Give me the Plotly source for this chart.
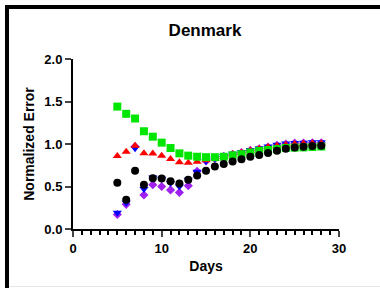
import plotly.graph_objects as go

days = list(range(5, 29))

green_sq = [1.44, 1.355, 1.30, 1.15, 1.086, 1.016, 0.953, 0.89, 0.863, 0.85, 0.845, 0.845,
            0.85, 0.867, 0.88, 0.90, 0.92, 0.93, 0.94, 0.953, 0.957, 0.96, 0.965, 0.97]
red_tri = [0.86, 0.91, 0.98, 0.89, 0.887, 0.863, 0.824, 0.785, 0.78, 0.79, 0.81, 0.83,
           0.85, 0.88, 0.90, 0.925, 0.945, 0.965, 0.98, 0.99, 1.0, 1.005, 1.01, 1.01]
blue_inv = [0.19, 0.31, 0.95, 0.47, 0.605, 0.59, 0.54, 0.50, 0.58, 0.675, 0.80, 0.83,
            0.855, 0.885, 0.905, 0.93, 0.95, 0.97, 0.99, 1.005, 1.012, 1.015, 1.02, 1.02]
purple_dia = [0.17, 0.29, 0.97, 0.40, 0.52, 0.50, 0.46, 0.43, 0.51, 0.68, 0.80, 0.83,
              0.855, 0.88, 0.90, 0.925, 0.945, 0.965, 0.985, 1.0, 1.01, 1.012, 1.015, 1.015]
black_circ = [0.543, 0.344, 0.684, 0.52, 0.598, 0.594, 0.5625, 0.535, 0.578, 0.629, 0.684, 0.734,
              0.766, 0.793, 0.82, 0.85, 0.871, 0.895, 0.922, 0.945, 0.96, 0.969, 0.977, 0.98]

x_ticks = [0, 10, 20, 30]
y_ticks = [0.0, 0.5, 1.0, 1.5, 2.0]
y_tick_labels = ["0.0", "0.5", "1.0", "1.5", "2.0"]

W, H = 380, 288
L, R, T, B = 73, 339, 59, 229

fig = go.Figure()
series = [
    (purple_dia, "#a020f0", "diamond", 7),
    (blue_inv, "#0000ff", "triangle-down", 8),
    (red_tri, "#ff0000", "triangle-up", 8),
    (green_sq, "#00e600", "square", 8),
    (black_circ, "#000000", "circle", 8),
]
for vals, col, sym, sz in series:
    fig.add_trace(go.Scatter(x=days, y=vals, mode="markers",
                             marker=dict(color=col, symbol=sym, size=sz, line=dict(width=0)),
                             showlegend=False, cliponaxis=False))

def px(p):
    return (p - L) / (R - L)

def py(p):
    return (B - p) / (B - T)

shapes = [
    dict(type="line", xref="paper", yref="paper", x0=px(5), x1=px(385), y0=py(7), y1=py(7),
         line=dict(color="black", width=4)),
    dict(type="line", xref="paper", yref="paper", x0=px(7), x1=px(7), y0=py(5), y1=py(295),
         line=dict(color="black", width=4)),
    dict(type="line", xref="paper", yref="paper", x0=px(9), x1=px(385), y0=py(286.5), y1=py(286.5),
         line=dict(color="#e6e6e6", width=1)),
]

fig.update_layout(
    width=W, height=H,
    margin=dict(l=L, r=W - R, t=T, b=H - B, pad=0),
    paper_bgcolor="white", plot_bgcolor="white",
    font=dict(family="Liberation Sans, Arial, sans-serif", color="black"),
    title=dict(text="Denmark", x=205 / W, xanchor="center", y=1 - 30 / H, yanchor="middle",
               font=dict(size=17, weight="bold")),
    shapes=shapes,
    xaxis=dict(range=[0, 30], tickvals=x_ticks, ticks="outside", ticklen=6, tickwidth=2,
               showline=True, linewidth=2, linecolor="black", showgrid=False, zeroline=False,
               tickfont=dict(size=13, weight="bold"),
               minor=dict(dtick=1, tick0=0, ticks="outside", ticklen=4, tickwidth=1.5,
                          tickcolor="black", showgrid=False),
               title=dict(text="Days", font=dict(size=14, weight="bold"), standoff=7)),
    yaxis=dict(range=[0, 2], tickvals=y_ticks, ticktext=y_tick_labels, ticks="outside",
               ticklen=6, tickwidth=2, showline=True, linewidth=2, linecolor="black",
               showgrid=False, zeroline=False, tickfont=dict(size=13, weight="bold"),
               title=dict(text="Normalized Error", font=dict(size=14, weight="bold"), standoff=6)),
)

fig.write_html("out.html", post_script="document.body.style.margin='0';",
               config={"displayModeBar": False})
